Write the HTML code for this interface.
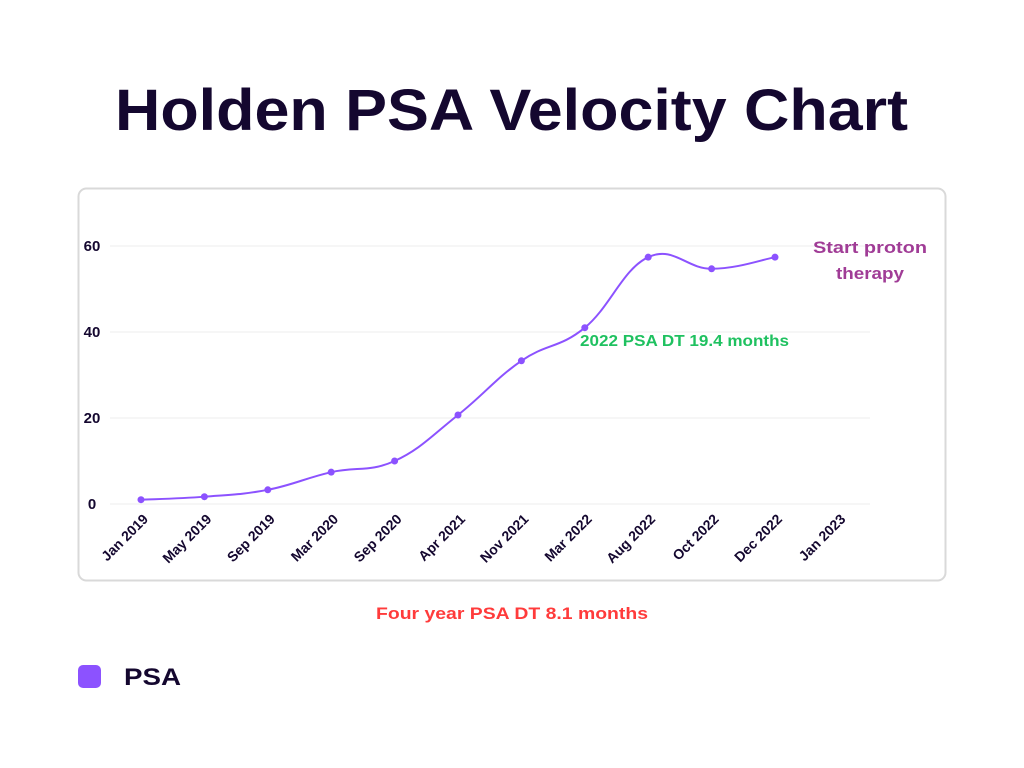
<!DOCTYPE html>
<html><head><meta charset="utf-8">
<style>
html,body{margin:0;padding:0;background:#fff;width:1024px;height:768px;overflow:hidden;font-family:"Liberation Sans",sans-serif;}
</style></head>
<body>
<svg id="chart" width="1024" height="768" xmlns="http://www.w3.org/2000/svg">
<text x="115" y="130" textLength="793" lengthAdjust="spacingAndGlyphs" font-family="Liberation Sans, sans-serif" font-weight="bold" font-size="58" fill="#14072f">Holden PSA Velocity Chart</text>
<rect x="78.5" y="188.5" width="867" height="392" rx="8" fill="#fff" stroke="#d9d9d9" stroke-width="2"/>
<g id="grid"></g>
<g id="yticks"></g>
<g id="xticks"></g>
<path id="line" fill="none" stroke="#8c52ff" stroke-width="2"/>
<g id="points"></g>
<text x="813" y="253" textLength="114" lengthAdjust="spacingAndGlyphs" font-weight="bold" font-size="17" fill="#a03c96">Start proton</text>
<text x="836" y="279" textLength="68" lengthAdjust="spacingAndGlyphs" font-weight="bold" font-size="17" fill="#a03c96">therapy</text>
<text x="580" y="346" textLength="209" lengthAdjust="spacingAndGlyphs" font-weight="bold" font-size="16" fill="#1fc160">2022 PSA DT 19.4 months</text>
<text x="376" y="619" textLength="272" lengthAdjust="spacingAndGlyphs" font-weight="bold" font-size="17" fill="#ff3b3b">Four year PSA DT 8.1 months</text>
<rect x="78" y="665" width="23" height="23" rx="5" fill="#8c52ff"/>
<text x="124" y="685" textLength="57" lengthAdjust="spacingAndGlyphs" font-weight="bold" font-size="24" fill="#14072f">PSA</text>
</svg>
<script>
const categories=["Jan 2019","May 2019","Sep 2019","Mar 2020","Sep 2020","Apr 2021","Nov 2021","Mar 2022","Aug 2022","Oct 2022","Dec 2022","Jan 2023"];
const psaValues=[1.0,1.7,3.3,7.4,10.0,20.7,33.3,41.0,57.4,54.7,57.4,null];
const yTicks=[0,20,40,60];
const NS="http://www.w3.org/2000/svg";
function xPos(i){return 141+i*63.4;}
function yPos(v){return 504-v*4.3;}
function mk(tag,attrs,parent){const e=document.createElementNS(NS,tag);for(const k in attrs)e.setAttribute(k,attrs[k]);parent.appendChild(e);return e;}
const grid=document.getElementById('grid'),yt=document.getElementById('yticks'),xt=document.getElementById('xticks'),pts=document.getElementById('points');
yTicks.forEach(v=>{
  const l=mk('line',{x1:110,x2:870,y1:yPos(v),y2:yPos(v),stroke:'#eeeeee','stroke-width':1},grid);
  
  
  const t=mk('text',{x:92,y:yPos(v)+5,'text-anchor':'middle','font-weight':'bold','font-size':15,fill:'#14072f'},yt);
  t.textContent=v;
  
  
});
categories.forEach((c,i)=>{
  const x=xPos(i)+8,y=520;
  const t=mk('text',{x:x,y:y,'text-anchor':'end','font-weight':'bold','font-size':14,fill:'#14072f',transform:'rotate(-45 '+x+' '+y+')'},xt);
  t.textContent=c;
  
  
});
const P=[];psaValues.forEach((v,i)=>{if(v!==null)P.push([xPos(i),yPos(v)]);});
let d='M'+P[0][0]+','+P[0][1];
for(let i=0;i<P.length-1;i++){
  const p0=P[Math.max(0,i-1)],p1=P[i],p2=P[i+1],p3=P[Math.min(P.length-1,i+2)];
  const t=0.2;
  const c1=[p1[0]+(p2[0]-p0[0])*t,p1[1]+(p2[1]-p0[1])*t];
  const c2=[p2[0]-(p3[0]-p1[0])*t,p2[1]-(p3[1]-p1[1])*t];
  d+=' C'+c1[0]+','+c1[1]+' '+c2[0]+','+c2[1]+' '+p2[0]+','+p2[1];
}
document.getElementById('line').setAttribute('d',d);
P.forEach((p,i)=>{
  const c=mk('circle',{cx:p[0],cy:p[1],r:3.5,fill:'#8c52ff'},pts);
  
  
});
</script>
</body></html>
